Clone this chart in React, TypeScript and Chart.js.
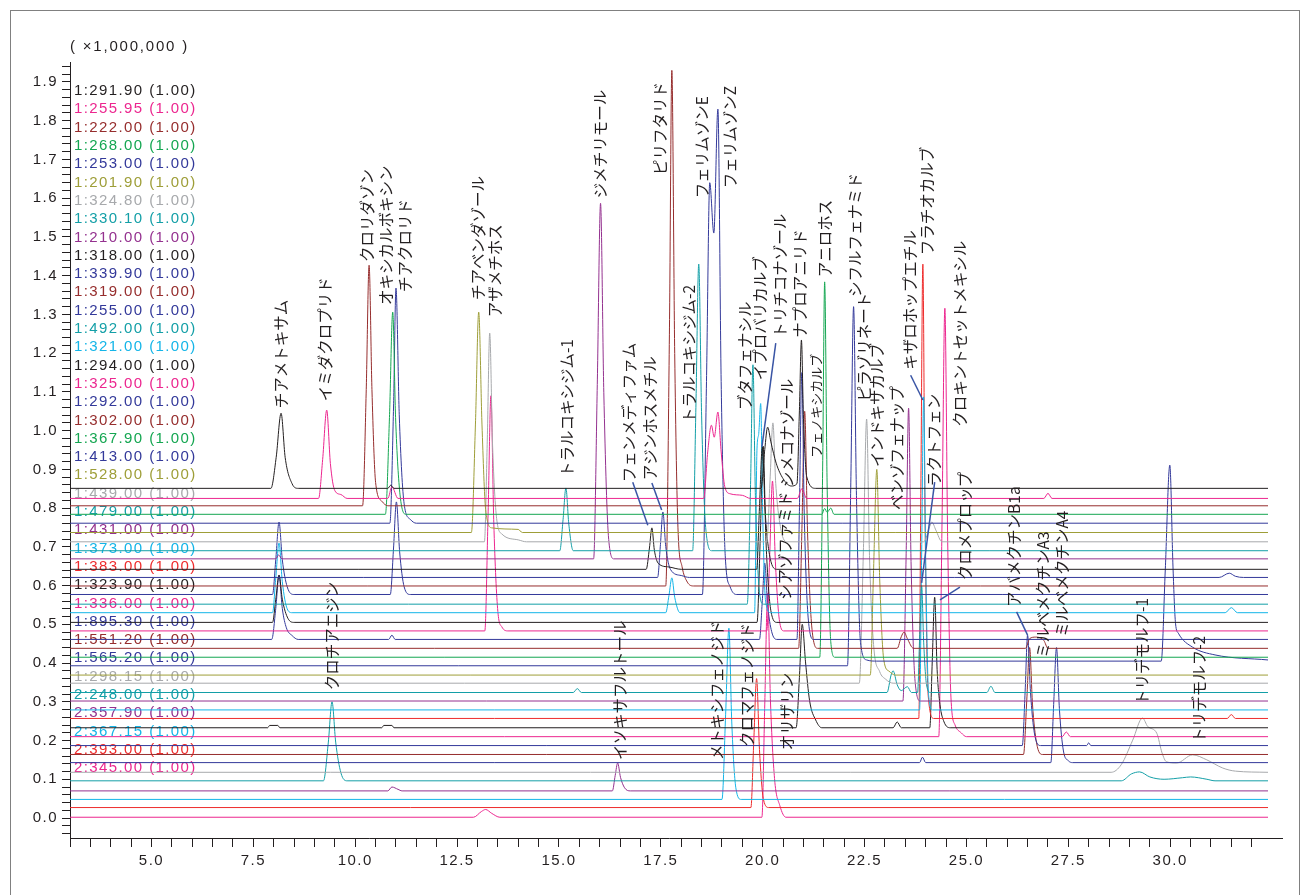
import React, { useEffect, useRef } from 'react';
import { Chart, registerables } from 'chart.js';

Chart.register(...registerables);

const X_MIN = 3.0;
const X_MAX = 32.4;
const Y_MIN = -0.0516;
const Y_MAX = 1.9516;

const BLACK = '#231f20';
const PINK = '#ec268f';
const DRED = '#962d2d';
const GREEN = '#14a651';
const DBLUE = '#33399a';
const OLIVE = '#9e9e38';
const GRAY = '#a7a9ac';
const TEAL = '#139fa7';
const PURPLE = '#94318f';
const CYAN = '#14b5e8';
const RED = '#ee2c2c';

const channelNames = [
  '1:291.90 (1.00)', '1:255.95 (1.00)', '1:222.00 (1.00)', '1:268.00 (1.00)', '1:253.00 (1.00)',
  '1:201.90 (1.00)', '1:324.80 (1.00)', '1:330.10 (1.00)', '1:210.00 (1.00)', '1:318.00 (1.00)',
  '1:339.90 (1.00)', '1:319.00 (1.00)', '1:255.00 (1.00)', '1:492.00 (1.00)', '1:321.00 (1.00)',
  '1:294.00 (1.00)', '1:325.00 (1.00)', '1:292.00 (1.00)', '1:302.00 (1.00)', '1:367.90 (1.00)',
  '1:413.00 (1.00)', '1:528.00 (1.00)', '1:439.00 (1.00)', '1:479.00 (1.00)', '1:431.00 (1.00)',
  '1:373.00 (1.00)', '1:383.00 (1.00)', '1:323.90 (1.00)', '1:336.00 (1.00)', '1:895.30 (1.00)',
  '1:551.20 (1.00)', '1:565.20 (1.00)', '1:298.15 (1.00)', '2:248.00 (1.00)', '2:357.90 (1.00)',
  '2:367.15 (1.00)', '2:393.00 (1.00)', '2:345.00 (1.00)',
];

const channelColors = [
  BLACK, PINK, DRED, GREEN, DBLUE, OLIVE, GRAY, TEAL, PURPLE, BLACK,
  DBLUE, DRED, DBLUE, TEAL, CYAN, BLACK, PINK, DBLUE, DRED, GREEN,
  DBLUE, OLIVE, GRAY, TEAL, PURPLE, CYAN, RED, BLACK, PINK, DBLUE,
  DRED, DBLUE, GRAY, TEAL, PURPLE, CYAN, RED, PINK,
];

// display offset (baseline) of each channel, x1,000,000
const channelOffsets = [
  0.851, 0.825, 0.806, 0.784, 0.761, 0.737, 0.713, 0.690, 0.669, 0.642,
  0.621, 0.599, 0.577, 0.552, 0.530, 0.505, 0.483, 0.461, 0.438, 0.415,
  0.393, 0.369, 0.348, 0.324, 0.302, 0.279, 0.257, 0.233, 0.210, 0.187,
  0.164, 0.143, 0.118, 0.096, 0.070, 0.048, 0.027, 0.002,
];

// [retention time (min), intensity above the channel baseline]
const tr00 = [[3,0],[7.93,0],[8.06,0.08],[8.18,0.194],[8.28,0.08],[8.45,0.012],[8.6,0],[10.8,0],[10.87,0.008],[10.95,0],[19.96,0],[20.05,0.1],[20.12,0.158],[20.2,0.12],[20.33,0.065],[20.5,0.025],[20.7,0.006],[20.84,0.012],[20.9,0.2],[20.95,0.383],[21.0,0.18],[21.08,0.03],[21.3,0],[32.4,0]];
const tr01 = [[3,0],[9.1,0],[9.2,0.1],[9.3,0.228],[9.39,0.09],[9.5,0.02],[9.65,0.01],[9.8,0],[10.8,0],[10.9,0.03],[11.05,0],[18.55,0],[18.65,0.12],[18.74,0.189],[18.81,0.158],[18.9,0.223],[18.98,0.12],[19.07,0.03],[19.2,0.012],[19.5,0.008],[19.7,0],[20.85,0],[20.96,0.025],[21.08,0],[26.9,0],[27.0,0.013],[27.1,0],[32.4,0]];
const tr02 = [[3,0],[10.18,0],[10.27,0.3],[10.34,0.621],[10.41,0.3],[10.5,0.06],[10.65,0.012],[10.8,0],[32.4,0]];
const tr03 = [[3,0],[10.74,0],[10.84,0.25],[10.92,0.522],[10.99,0.25],[11.1,0.05],[11.25,0],[21.45,0],[21.52,0.015],[21.58,0.005],[21.67,0.016],[21.75,0],[32.4,0]];
const tr04 = [[3,0],[10.85,0],[10.94,0.3],[11.0,0.607],[11.08,0.28],[11.2,0.05],[11.35,0.01],[11.5,0],[32.4,0]];
const tr05 = [[3,0],[12.85,0],[12.95,0.28],[13.03,0.569],[13.11,0.28],[13.2,0.06],[13.35,0.012],[14.0,0.008],[14.1,0],[32.4,0]];
const tr06 = [[3,0],[13.17,0],[13.24,0.26],[13.3,0.539],[13.37,0.25],[13.47,0.06],[13.6,0.02],[14.0,0.005],[14.2,0],[20.1,0],[20.18,0.16],[20.25,0.307],[20.32,0.15],[20.45,0.03],[20.6,0],[23.95,0],[24.1,0.04],[24.15,0.051],[24.25,0.03],[24.4,0],[32.4,0]];
const tr07 = [[3,0],[15.02,0],[15.1,0.08],[15.17,0.162],[15.24,0.07],[15.35,0],[18.28,0],[18.36,0.37],[18.43,0.74],[18.5,0.35],[18.6,0.06],[18.75,0],[32.4,0]];
const tr08 = [[3,0],[8.05,0],[8.12,0.01],[8.2,0],[15.85,0],[15.94,0.45],[16.02,0.918],[16.1,0.43],[16.22,0.05],[16.35,0],[32.4,0]];
const tr09 = [[3,0],[17.14,0],[17.22,0.055],[17.28,0.107],[17.34,0.05],[17.44,0.015],[17.7,0.006],[18.0,0],[19.85,0],[19.92,0.16],[19.99,0.316],[20.06,0.15],[20.18,0.03],[20.35,0],[32.4,0]];
const tr10 = [[3,0],[17.42,0],[17.49,0.085],[17.55,0.169],[17.62,0.08],[17.74,0.02],[18.0,0.005],[18.2,0],[31.2,0],[31.45,0.011],[31.6,0.003],[31.8,0],[32.4,0]];
const tr11 = [[3,0],[17.62,0],[17.71,0.65],[17.77,1.331],[17.84,0.6],[17.92,0.15],[18.02,0.05],[18.15,0.01],[18.3,0],[32.4,0]];
const tr12 = [[3,0],[7.97,0],[8.05,0.09],[8.13,0.187],[8.21,0.09],[8.33,0.02],[8.5,0],[10.86,0],[10.94,0.12],[11.01,0.239],[11.09,0.11],[11.2,0.02],[11.35,0],[18.52,0],[18.62,0.55],[18.7,1.063],[18.8,0.933],[18.9,1.253],[18.98,0.55],[19.08,0.1],[19.2,0.02],[19.35,0],[32.4,0]];
const tr13 = [[3,0],[19.62,0],[19.7,0.3],[19.76,0.618],[19.82,0.28],[19.92,0.03],[20.02,0],[32.4,0]];
const tr14 = [[3,0],[7.97,0],[8.05,0.09],[8.13,0.18],[8.21,0.08],[8.33,0.01],[8.45,0],[17.62,0],[17.7,0.045],[17.77,0.09],[17.84,0.04],[17.97,0],[19.8,0],[19.86,0.425],[19.9,0.46],[19.95,0.54],[20.0,0.25],[20.07,0.03],[20.2,0],[31.35,0],[31.5,0.013],[31.65,0],[32.4,0]];
const tr15 = [[3,0],[7.97,0],[8.05,0.06],[8.13,0.122],[8.21,0.06],[8.35,0.01],[8.5,0],[19.86,0],[19.94,0.22],[20.01,0.455],[20.08,0.21],[20.2,0.03],[20.35,0],[32.4,0]];
const tr16 = [[3,0],[13.18,0],[13.26,0.3],[13.33,0.607],[13.4,0.28],[13.5,0.05],[13.6,0.01],[13.75,0],[20.1,0],[20.17,0.19],[20.24,0.387],[20.31,0.18],[20.42,0.02],[20.52,0],[32.4,0]];
const tr17 = [[3,0],[7.95,0],[8.05,0.08],[8.13,0.166],[8.21,0.08],[8.31,0.03],[8.45,0.01],[8.6,0],[10.82,0],[10.9,0.011],[10.98,0],[19.92,0],[19.99,0.1],[20.05,0.197],[20.12,0.09],[20.22,0.02],[20.35,0],[20.84,0],[20.9,0.33],[20.96,0.689],[21.02,0.32],[21.12,0.05],[21.25,0],[32.4,0]];
const tr18 = [[3,0],[20.88,0],[20.96,0.3],[21.03,0.612],[21.1,0.3],[21.2,0.06],[21.35,0],[23.3,0],[23.4,0.03],[23.47,0.042],[23.55,0.025],[23.7,0],[26.45,0],[26.55,0.025],[26.7,0.029],[26.9,0.02],[27.0,0],[32.4,0]];
const tr19 = [[3,0],[21.4,0],[21.47,0.48],[21.52,0.969],[21.58,0.45],[21.67,0.04],[21.77,0],[32.4,0]];
const tr20 = [[3,0],[22.08,0],[22.16,0.46],[22.23,0.927],[22.3,0.44],[22.4,0.06],[22.55,0.015],[22.8,0.012],[29.78,0.012],[29.88,0.25],[29.99,0.518],[30.07,0.25],[30.13,0.11],[30.2,0.084],[30.55,0.048],[31.1,0.028],[32.4,0.015]];
const tr21 = [[3,0],[22.64,0],[22.72,0.27],[22.8,0.531],[22.87,0.25],[22.97,0.04],[23.1,0.01],[23.25,0],[32.4,0]];
const tr22 = [[3,0],[22.37,0],[22.47,0.34],[22.55,0.682],[22.62,0.33],[22.72,0.1],[22.87,0.03],[23.02,0.01],[23.2,0],[32.4,0]];
const tr23 = [[3,0],[15.35,0],[15.45,0.01],[15.55,0],[23.05,0],[23.15,0.045],[23.2,0.056],[23.3,0.02],[23.4,0.005],[23.55,0.015],[23.65,0],[23.8,0],[23.85,0.14],[23.9,0.276],[23.95,0.13],[24.02,0.02],[24.12,0],[25.5,0],[25.6,0.016],[25.7,0],[32.4,0]];
const tr24 = [[3,0],[23.44,0],[23.52,0.38],[23.58,0.756],[23.64,0.36],[23.74,0.05],[23.87,0],[32.4,0]];
const tr25 = [[3,0],[23.85,0],[23.9,0.4],[23.95,0.808],[24.0,0.38],[24.07,0.04],[24.17,0],[32.4,0]];
const tr26 = [[3,0],[23.83,0],[23.88,0.58],[23.93,1.173],[23.98,0.55],[24.06,0.06],[24.2,0],[31.4,0],[31.5,0.01],[31.6,0],[32.4,0]];
const tr27 = [[3,0],[7.85,0],[7.9,0.006],[8.1,0.006],[8.15,0],[10.65,0],[10.7,0.006],[10.9,0.006],[10.95,0],[20.82,0],[20.9,0.13],[20.97,0.267],[21.05,0.17],[21.15,0.07],[21.3,0.02],[21.45,0],[23.2,0],[23.3,0.015],[23.4,0],[24.1,0],[24.16,0.17],[24.22,0.337],[24.28,0.15],[24.35,0.06],[24.45,0.015],[24.6,0],[32.4,0]];
const tr28 = [[3,0],[24.32,0],[24.4,0.55],[24.47,1.106],[24.54,0.5],[24.62,0.1],[24.72,0.03],[24.87,0.01],[25.0,0],[27.35,0],[27.45,0.012],[27.55,0],[32.4,0]];
const tr29 = [[3,0],[26.37,0],[26.44,0.14],[26.5,0.285],[26.57,0.14],[26.67,0.03],[26.82,0],[27.95,0],[28.0,0.007],[28.05,0],[32.4,0]];
const tr30 = [[3,0],[26.4,0],[26.48,0.14],[26.55,0.276],[26.62,0.13],[26.72,0.03],[26.87,0],[32.4,0]];
const tr31 = [[3,0],[23.85,0],[23.92,0.014],[24.0,0],[27.07,0],[27.14,0.15],[27.21,0.297],[27.28,0.14],[27.38,0.03],[27.5,0.005],[27.6,0],[32.4,0]];
const tr32 = [[3,0],[28.55,0],[28.8,0.02],[29.08,0.083],[29.32,0.14],[29.45,0.118],[29.67,0.101],[29.8,0.05],[29.91,0.027],[30.16,0.024],[30.55,0.045],[30.9,0.032],[31.29,0.011],[31.6,0.003],[32.4,0]];
const tr33 = [[3,0],[9.22,0],[9.34,0.1],[9.43,0.204],[9.52,0.1],[9.65,0.02],[9.8,0],[28.8,0],[29.05,0.018],[29.25,0.023],[29.5,0.01],[29.85,0.004],[30.3,0.008],[30.5,0.01],[30.9,0.004],[31.1,0],[32.4,0]];
const tr34 = [[3,0],[10.8,0],[10.9,0.01],[11.05,0.004],[11.15,0],[16.31,0],[16.38,0.04],[16.44,0.072],[16.51,0.035],[16.61,0.008],[16.75,0],[32.4,0]];
const tr35 = [[3,0],[19.0,0],[19.09,0.22],[19.17,0.442],[19.24,0.2],[19.34,0.03],[19.47,0],[32.4,0]];
const tr36 = [[3,0],[19.71,0],[19.78,0.17],[19.85,0.333],[19.92,0.15],[20.02,0.02],[20.15,0],[32.4,0]];
const tr37 = [[3,0],[12.9,0],[13.1,0.015],[13.2,0.02],[13.35,0.01],[13.55,0],[19.98,0],[20.05,0.29],[20.12,0.578],[20.19,0.3],[20.29,0.1],[20.42,0.03],[20.57,0],[32.4,0]];

const traces = [
  tr00, tr01, tr02, tr03, tr04, tr05, tr06, tr07, tr08, tr09,
  tr10, tr11, tr12, tr13, tr14, tr15, tr16, tr17, tr18, tr19,
  tr20, tr21, tr22, tr23, tr24, tr25, tr26, tr27, tr28, tr29,
  tr30, tr31, tr32, tr33, tr34, tr35, tr36, tr37,
];

// compound names: [name, time of label column, level of label start, font size]
const peakLabels: [string, number, number, number][] = [
  ['チアメトキサム', 8.18, 1.058, 15.5],
  ['イミダクロプリド', 9.26, 1.076, 15.5],
  ['クロリダゾン', 10.3, 1.435, 15.5],
  ['オキシカルボキシン', 10.75, 1.324, 15.5],
  ['チアクロリド', 11.22, 1.358, 15.5],
  ['チアベンダゾール', 13.01, 1.337, 15.5],
  ['アザメチホス', 13.43, 1.293, 15.5],
  ['トラルコキシジム-1', 15.19, 0.88, 15.5],
  ['ジメチリモール', 16.0, 1.6, 15.5],
  ['フェンメディファム', 16.71, 0.867, 15.5],
  ['アジンホスメチル', 17.23, 0.872, 15.5],
  ['ピリフタリド', 17.47, 1.66, 15.5],
  ['トラルコキシジム-2', 18.19, 1.02, 15.5],
  ['フェリムゾンE', 18.51, 1.6, 15.5],
  ['フェリムゾンZ', 19.19, 1.626, 15.5],
  ['ブタフェナシル', 19.56, 1.053, 15.5],
  ['イプロバリカルブ', 19.93, 1.13, 15.5],
  ['トリチコナゾール', 20.42, 1.24, 15.5],
  ['シメコナゾール', 20.59, 0.854, 15.5],
  ['シアゾファミド', 20.55, 0.563, 15.5],
  ['ナプロアニリド', 20.91, 1.24, 15.5],
  ['フェノキシカルブ', 21.3, 0.93, 13],
  ['アニロホス', 21.52, 1.396, 15.5],
  ['シフルフェナミド', 22.26, 1.345, 15.5],
  ['ピラゾリネート', 22.5, 1.076, 15.5],
  ['インドキサカルブ', 22.8, 0.906, 15.5],
  ['ベンゾフェナップ', 23.29, 0.795, 15.5],
  ['キザロホップエチル', 23.61, 1.157, 15.5],
  ['フラチオカルブ', 24.03, 1.453, 15.5],
  ['ラクトフェン', 24.2, 0.855, 15.5],
  ['クロキントセットメキシル', 24.84, 1.01, 15.5],
  ['クロメプロップ', 24.96, 0.614, 15.5],
  ['アバメクチンB1a', 26.18, 0.545, 15.5],
  ['ミルベメクチンA3', 26.87, 0.413, 15.5],
  ['ミルベメクチンA4', 27.34, 0.467, 15.5],
  ['トリデモルフ-1', 29.32, 0.292, 15.5],
  ['トリデモルフ-2', 30.72, 0.194, 15.5],
  ['クロチアニジン', 9.43, 0.33, 15.5],
  ['イソキサフルトール', 16.49, 0.15, 15.5],
  ['メトキシフェノジド', 18.87, 0.15, 15.5],
  ['クロマフェノジド', 19.61, 0.183, 15.5],
  ['オリザリン', 20.59, 0.175, 15.5],
];

// leader lines from a label to its peak: [t1, v1, t2, v2]
const leaderLines: [number, number, number, number][] = [
  [16.81, 0.867, 17.18, 0.756],
  [17.28, 0.865, 17.52, 0.795],
  [20.32, 1.226, 19.98, 0.958],
  [23.63, 1.143, 23.93, 1.079],
  [24.22, 0.867, 23.9, 0.607],
  [24.84, 0.596, 24.35, 0.563],
  [26.23, 0.532, 26.5, 0.472],
];

const yAxisTitle = '( \u00d71,000,000 )';

const isMultiple = (v: number, step: number) => Math.abs(v / step - Math.round(v / step)) < 1e-6;

export default function App() {
  const canvasRef = useRef<HTMLCanvasElement | null>(null);

  useEffect(() => {
    const canvas = canvasRef.current;
    if (!canvas) return;

    const datasets = traces.map((pts, i) => ({
      label: channelNames[i],
      data: pts.map(([t, h]) => ({ x: t, y: channelOffsets[i] + h })),
      borderColor: channelColors[i],
      backgroundColor: channelColors[i],
      borderWidth: 1,
      pointRadius: 0,
      cubicInterpolationMode: 'monotone' as const,
      fill: false,
    }));

    const overlay = {
      id: 'overlay',
      beforeDraw(chart: any) {
        (chart.ctx as any).letterSpacing = '1.5px';
      },
      beforeDatasetsDraw(chart: any) {
        const ctx = chart.ctx;
        ctx.save();
        ctx.font = '15px "Liberation Sans", Arial, sans-serif';
        (ctx as any).letterSpacing = '1.4px';
        ctx.textAlign = 'left';
        ctx.textBaseline = 'middle';
        channelNames.forEach((name, i) => {
          ctx.fillStyle = channelColors[i];
          ctx.fillText(name, chart.chartArea.left + 4, 91 + i * 18.3);
        });
        ctx.restore();
      },
      afterDatasetsDraw(chart: any) {
        const ctx = chart.ctx;
        const xs = chart.scales.x;
        const ys = chart.scales.y;
        ctx.save();
        (ctx as any).letterSpacing = '0px';
        ctx.strokeStyle = '#3a55a5';
        ctx.lineWidth = 1.5;
        leaderLines.forEach(([t1, v1, t2, v2]) => {
          ctx.beginPath();
          ctx.moveTo(xs.getPixelForValue(t1), ys.getPixelForValue(v1));
          ctx.lineTo(xs.getPixelForValue(t2), ys.getPixelForValue(v2));
          ctx.stroke();
        });
        ctx.fillStyle = BLACK;
        ctx.textAlign = 'left';
        ctx.textBaseline = 'middle';
        peakLabels.forEach(([name, t, v, size]) => {
          ctx.save();
          ctx.font = `${size}px "Noto Sans CJK JP", sans-serif`;
          ctx.translate(xs.getPixelForValue(t), ys.getPixelForValue(v));
          ctx.rotate(-Math.PI / 2);
          ctx.fillText(name, 0, 0);
          ctx.restore();
        });
        ctx.restore();
      },
      afterDraw(chart: any) {
        const ctx = chart.ctx;
        const area = chart.chartArea;
        ctx.save();
        ctx.fillStyle = BLACK;
        ctx.font = '15px "Liberation Sans", Arial, sans-serif';
        (ctx as any).letterSpacing = '1.8px';
        ctx.textAlign = 'left';
        ctx.textBaseline = 'middle';
        ctx.fillText(yAxisTitle, area.left, 47);
        ctx.strokeStyle = BLACK;
        ctx.lineWidth = 1;
        ctx.beginPath();
        ctx.moveTo(area.right, area.bottom + 0.5);
        ctx.lineTo(area.right + 15, area.bottom + 0.5);
        ctx.stroke();
        ctx.restore();
      },
    };

    const chart = new Chart(canvas, {
      type: 'line',
      data: { datasets },
      options: {
        responsive: false,
        animation: false,
        events: [],
        layout: { padding: { top: 62, right: 32, left: 0, bottom: 0 } },
        plugins: { legend: { display: false }, tooltip: { enabled: false }, title: { display: false } },
        scales: {
          x: {
            type: 'linear',
            min: X_MIN,
            max: X_MAX,
            afterBuildTicks: (s: any) => { s.ticks = s.ticks.filter((t: any) => isMultiple(t.value, 0.5)); },
            afterFit: (s: any) => { s.height = 57; },
            border: { display: true, color: BLACK, width: 1 },
            grid: { drawOnChartArea: false, drawTicks: true, tickLength: 9, color: BLACK, lineWidth: 1 },
            ticks: {
              stepSize: 0.5,
              includeBounds: false,
              autoSkip: false,
              maxRotation: 0,
              minRotation: 0,
              padding: 5,
              color: BLACK,
              font: { family: '"Liberation Sans", Arial, sans-serif', size: 15 },
              callback: (v: any) => (isMultiple(Number(v), 2.5) ? Number(v).toFixed(1) : ''),
            },
          },
          y: {
            type: 'linear',
            min: Y_MIN,
            max: Y_MAX,
            afterBuildTicks: (s: any) => { s.ticks = s.ticks.filter((t: any) => isMultiple(t.value, 0.02)); },
            afterFit: (s: any) => { s.width = 70; },
            border: { display: true, color: BLACK, width: 1 },
            grid: { drawOnChartArea: false, drawTicks: true, tickLength: 8, color: BLACK, lineWidth: 1 },
            ticks: {
              stepSize: 0.02,
              includeBounds: false,
              autoSkip: false,
              padding: 4,
              color: BLACK,
              font: { family: '"Liberation Sans", Arial, sans-serif', size: 15 },
              callback: (v: any) => {
                const n = Number(v);
                return isMultiple(n, 0.1) && n > -1e-9 ? n.toFixed(1) : '';
              },
            },
          },
        },
      },
      plugins: [overlay],
    });

    return () => chart.destroy();
  }, []);

  return (
    <div style={{ position: 'absolute', left: 0, top: 0, width: 1300, height: 895, overflow: 'hidden', background: '#fff' }}>
      <div
        style={{
          position: 'absolute', left: 10, top: 10, width: 1290, height: 885,
          borderLeft: '1px solid #808080', borderTop: '1px solid #808080', borderRight: '1px solid #808080',
          boxSizing: 'border-box',
        }}
      />
      <canvas ref={canvasRef} width={1300} height={895} style={{ position: 'absolute', left: 0, top: 0 }} />
    </div>
  );
}
